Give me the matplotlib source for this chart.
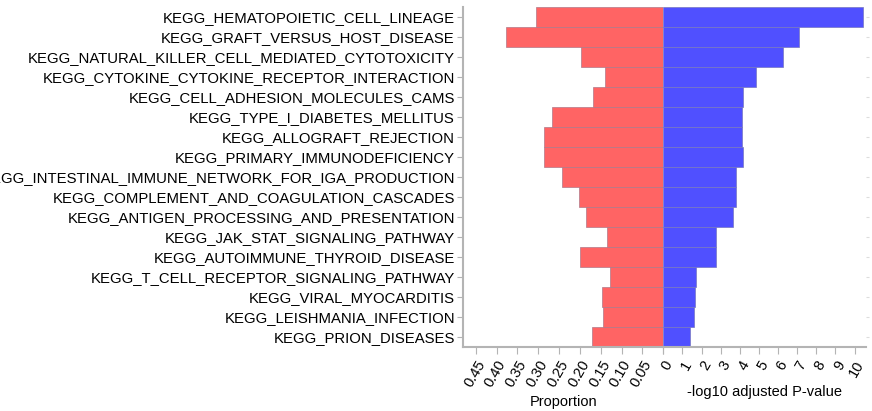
import numpy as np
import matplotlib
matplotlib.use("Agg")
import matplotlib.pyplot as plt

plt.rcParams['font.family'] = ['Liberation Sans', 'DejaVu Sans']

pathways = [
    "KEGG_HEMATOPOIETIC_CELL_LINEAGE",
    "KEGG_GRAFT_VERSUS_HOST_DISEASE",
    "KEGG_NATURAL_KILLER_CELL_MEDIATED_CYTOTOXICITY",
    "KEGG_CYTOKINE_CYTOKINE_RECEPTOR_INTERACTION",
    "KEGG_CELL_ADHESION_MOLECULES_CAMS",
    "KEGG_TYPE_I_DIABETES_MELLITUS",
    "KEGG_ALLOGRAFT_REJECTION",
    "KEGG_PRIMARY_IMMUNODEFICIENCY",
    "KEGG_INTESTINAL_IMMUNE_NETWORK_FOR_IGA_PRODUCTION",
    "KEGG_COMPLEMENT_AND_COAGULATION_CASCADES",
    "KEGG_ANTIGEN_PROCESSING_AND_PRESENTATION",
    "KEGG_JAK_STAT_SIGNALING_PATHWAY",
    "KEGG_AUTOIMMUNE_THYROID_DISEASE",
    "KEGG_T_CELL_RECEPTOR_SIGNALING_PATHWAY",
    "KEGG_VIRAL_MYOCARDITIS",
    "KEGG_LEISHMANIA_INFECTION",
    "KEGG_PRION_DISEASES",
]
proportion = [0.305, 0.378, 0.198, 0.139, 0.168, 0.268, 0.286, 0.286, 0.244,
              0.202, 0.186, 0.135, 0.200, 0.128, 0.146, 0.145, 0.170]
neglog_p = [10.45, 7.09, 6.26, 4.85, 4.17, 4.13, 4.13, 4.17, 3.82,
            3.78, 3.64, 2.77, 2.75, 1.73, 1.64, 1.60, 1.41]

prop_ticks = [0.45, 0.40, 0.35, 0.30, 0.25, 0.20, 0.15, 0.10, 0.05, 0]
prop_labels = ["0.45", "0.40", "0.35", "0.30", "0.25", "0.20", "0.15", "0.10", "0.05", ""]
p_ticks = list(range(0, 11))

red = "#ff6464"
blue = "#5050ff"
spine_col = "#b4b4b4"

fig = plt.figure(figsize=(8.72, 4.11), dpi=100)
ax1 = fig.add_axes([0.5313, 0.1557, 0.2294, 0.8273])
ax2 = fig.add_axes([0.7607, 0.1557, 0.2325, 0.8273])

y = np.arange(len(pathways))

# left half: proportion, growing leftwards
ax1.barh(y, proportion, height=1.0, color=red, edgecolor="#b07888", linewidth=0.5)
ax1.set_xlim(0.48, 0)
ax1.set_ylim(len(pathways) - 0.5, -0.5)
ax1.set_yticks(y)
ax1.set_yticklabels(pathways, fontsize=10.7)
ax1.set_xticks(prop_ticks)
ax1.set_xticklabels(prop_labels, fontsize=10.5, rotation=60, ha="right",
                    rotation_mode="anchor")
ax1.set_xlabel("Proportion", fontsize=10.5, labelpad=4)
ax1.tick_params(axis="y", length=4, color=spine_col, pad=2)
ax1.tick_params(axis="x", length=5, color=spine_col, pad=3)
for s in ["top", "right"]:
    ax1.spines[s].set_visible(False)
for s in ["left", "bottom"]:
    ax1.spines[s].set_color(spine_col)
    ax1.spines[s].set_linewidth(1.5)

# right half: significance
ax2.barh(y, neglog_p, height=1.0, color=blue, edgecolor="#7676c0", linewidth=0.5)
ax2.set_xlim(0, 10.6)
ax2.set_ylim(len(pathways) - 0.5, -0.5)
ax2.set_yticks(y)
ax2.yaxis.tick_right()
ax2.set_yticklabels([])
ax2.set_xticks(p_ticks)
ax2.set_xticklabels([str(t) for t in p_ticks], fontsize=10.5, rotation=60,
                    ha="right", rotation_mode="anchor")
ax2.set_xlabel("-log10 adjusted P-value", fontsize=10.5, labelpad=4)
ax2.tick_params(axis="y", length=2, color="#dddddd")
ax2.tick_params(axis="x", length=5, color=spine_col, pad=3)
for s in ["top", "right", "left"]:
    ax2.spines[s].set_visible(False)
ax2.spines["bottom"].set_color(spine_col)
ax2.spines["bottom"].set_linewidth(1.5)

fig.savefig("out.png", dpi=100)
